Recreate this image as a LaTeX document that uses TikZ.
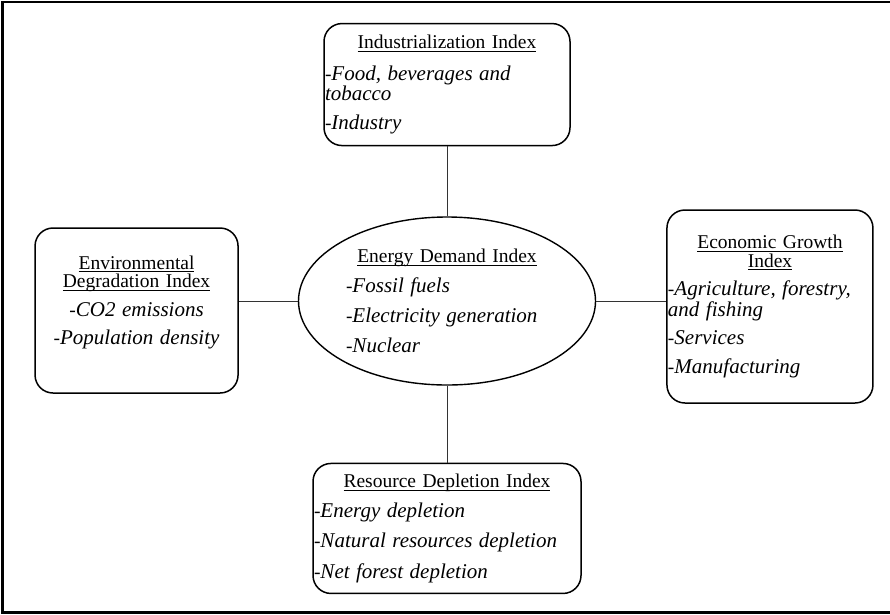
\documentclass[tikz,border=0pt]{standalone}
\usepackage{fontspec}
\setmainfont{Liberation Serif}
\usetikzlibrary{shapes.geometric,positioning}
\newcommand{\ent}[1]{-{\itshape\fontsize{21}{18.5}\selectfont #1}}
\newcommand{\wrp}[1]{{\itshape\fontsize{21}{18.5}\selectfont #1}}
\newcommand{\hd}[1]{\leavevmode\setbox0\hbox{#1}\rlap{\rule[-3pt]{\wd0}{0.9pt}}\box0}

\begin{document}
\begin{tikzpicture}[
  x=1pt,y=-1pt,
  txt/.style={font=\fontsize{19.5}{18.5}\selectfont},
  box/.style={draw,line width=1.5pt,rounded corners=18pt,inner xsep=1pt,inner ysep=2pt,txt},
  hub/.style={draw,ellipse,line width=1.4pt,inner sep=0pt,minimum width=297pt,minimum height=168pt,text width=202pt,align=left,txt},
  link/.style={line width=0.9pt,black!80}
]
\useasboundingbox (0,0) rectangle (890,614);
\draw[line width=2.5pt] (2.5,2) rectangle (900,612.5);

\node[hub] (edi) at (447,301) {\centering\hd{Energy Demand Index}\\[10pt]
  \raggedright \ent{Fossil fuels}\\[10pt]
  \ent{Electricity generation}\\[10pt]
  \ent{Nuclear}};
\node[box,above=70pt of edi,minimum width=246pt,minimum height=122pt,text width=244pt,align=left] (ind)
  {\centering\hd{Industrialization Index}\\[13pt]
  \raggedright \ent{Food, beverages and}\\\wrp{tobacco}\\[11pt]
  \ent{Industry}};
\node[box,below=77pt of edi,minimum width=268pt,minimum height=130pt,text width=266pt,align=left] (rdi)
  {\centering\hd{Resource Depletion Index}\\[10pt]
  \raggedright \ent{Energy depletion}\\[10pt]
  \ent{Natural resources depletion}\\[10pt]
  \ent{Net forest depletion}};
\node[box,left=59pt of edi,yshift=-9.5pt,minimum width=203pt,minimum height=165pt,text width=201pt,align=center] (env)
  {\hd{Environmental}\\\hd{Degradation Index}\\[10pt]
  \ent{CO2 emissions}\\[10pt]
  \ent{Population density}\\[2pt]\mbox{}};
\node[box,right=70pt of edi,yshift=-5.5pt,minimum width=206pt,minimum height=193pt,text width=204pt,align=left] (ecg)
  {\centering\hd{Economic Growth}\\\hd{Index}\\[10pt]
  \raggedright \ent{Agriculture, forestry,}\\\wrp{and fishing}\\[10pt]
  \ent{Services}\\[10pt]
  \ent{Manufacturing}};

\draw[link] (ind) -- (edi);
\draw[link] (edi) -- (rdi);
\draw[link] (edi.west) -- (edi.west -| env.east);
\draw[link] (edi.east) -- (edi.east -| ecg.west);
\end{tikzpicture}
\end{document}
